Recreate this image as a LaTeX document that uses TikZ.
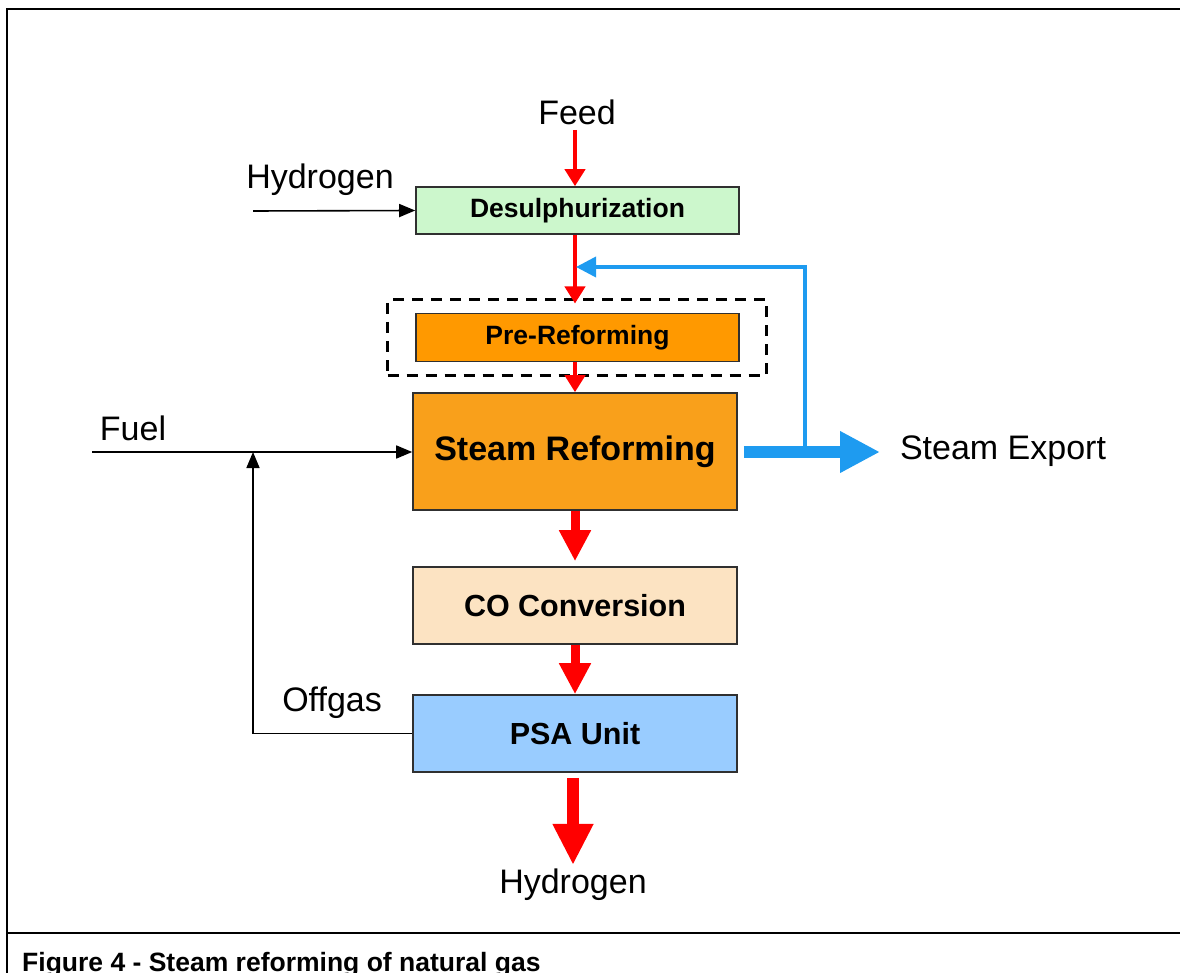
\documentclass[tikz,border=0pt]{standalone}
\usepackage{fontspec}
\setmainfont{Liberation Sans}
\usetikzlibrary{arrows.meta}
\definecolor{desulc}{HTML}{CCF7CC}
\definecolor{prec}{HTML}{FF9900}
\definecolor{steamc}{HTML}{F9A01B}
\definecolor{coc}{HTML}{FCE3C2}
\definecolor{psac}{HTML}{99CCFF}
\definecolor{redc}{HTML}{FF0000}
\definecolor{bluec}{HTML}{1E9BF0}
\definecolor{edgec}{HTML}{303030}
\tikzset{
  unit/.style={draw=edgec, line width=1.6pt, minimum width=323pt, inner sep=0pt, font=\bfseries},
  lbl/.style={inner sep=0pt, font=\fontsize{34}{40}\selectfont},
  redthin/.style={draw=redc, line width=4pt, -{Triangle[width=20pt,length=17pt]}},
  redmid/.style={draw=redc, line width=9pt, -{Triangle[width=30pt,length=31pt]}},
  redbig/.style={draw=redc, line width=12pt, -{Triangle[width=38pt,length=41pt]}},
  blackarr/.style={draw=black, line width=1.6pt, -{Triangle[width=13pt,length=16pt]}},
  bluethin/.style={draw=bluec, line width=3.6pt, -{Triangle[width=20pt,length=20pt]}},
  bluethick/.style={draw=bluec, line width=12pt, -{Triangle[width=39pt,length=40pt]}},
}
\begin{document}
\begin{tikzpicture}[x=1pt, y=-1pt]
\useasboundingbox (0,0) rectangle (1180,973);
% frame
\draw[line width=1.5pt] (7,973) -- (7,9) -- (1181,9);
\draw[line width=1.5pt] (7,933) -- (1181,933);
\node[anchor=base west, inner sep=0pt, font=\bfseries\fontsize{26.5}{30}\selectfont] (cap) at (22,971) {Figure 4 - Steam reforming of natural gas};

% units
\node[unit, fill=desulc, minimum height=47pt, font=\bfseries\fontsize{26.5}{30}\selectfont] (desul) at (577.5,210.5) {Desulphurization};
\node[draw=black, line width=3pt, dash pattern=on 11pt off 8pt, minimum width=379pt, minimum height=75pt, inner sep=0pt] (dashbox) at (577,337.5) {};
\node[unit, fill=prec, minimum height=48pt, font=\bfseries\fontsize{26.5}{30}\selectfont] (pre) at (577.5,337.5) {Pre-Reforming};
\node[unit, fill=steamc, minimum width=324pt, minimum height=117pt, font=\bfseries\fontsize{34}{40}\selectfont] (steam) at (575,451.5) {Steam Reforming};
\node[unit, fill=coc, minimum width=324pt, minimum height=77pt, font=\bfseries\fontsize{30.5}{36}\selectfont] (co) at (575,605.5) {CO Conversion};
\node[unit, fill=psac, minimum width=324pt, minimum height=77pt, font=\bfseries\fontsize{30.5}{36}\selectfont] (psa) at (575,733.5) {PSA Unit};

% labels
\node[lbl] (feed) at (577,112) {Feed};
\node[lbl] (h2in) at (320,180) {Hydrogen};
\node[lbl] (fuel) at (133,428) {Fuel};
\node[lbl, anchor=east] (offgas) at (382,703) {Offgas};
\node[lbl] (export) at (1003,451) {Steam Export};
\node[lbl] (h2out) at (573,885) {Hydrogen};

% coordinates
\coordinate (feedtop) at (575,130);
\coordinate (h2start) at (253,211);
\coordinate (fuelstart) at (92,452);
\coordinate (fj) at (253,452);
\coordinate (bj) at (805,452);
\coordinate (bt) at (576,267);
\coordinate (steamtip) at (880,452);

% red flow
\draw[redthin] (feedtop) -- (feedtop |- desul.north);
\draw[redthin] (desul.south -| feedtop) -- ([yshift=-5pt]dashbox.north -| feedtop);
\draw[redthin] (pre.south -| feedtop) -- (steam.north -| feedtop);
\draw[redmid, shorten >=5pt] (steam.south -| feedtop) -- (co.north -| feedtop);
\draw[redmid] (co.south -| feedtop) -- (psa.north -| feedtop);
\draw[redbig, shorten <=5pt, shorten >=4pt] (psa.south -| h2out) -- (h2out.north);

% black lines
\draw[blackarr] (h2start) -- (desul.west);
\draw[blackarr] (fuelstart) -- (steam.west |- fuelstart);
\draw[blackarr] (psa.west) -| (fj);

% steam export
\draw[bluethin] (bj) |- (bt);
\draw[bluethick] (steam.east |- bj) ++(6,0) -- (steamtip);
\end{tikzpicture}
\end{document}
